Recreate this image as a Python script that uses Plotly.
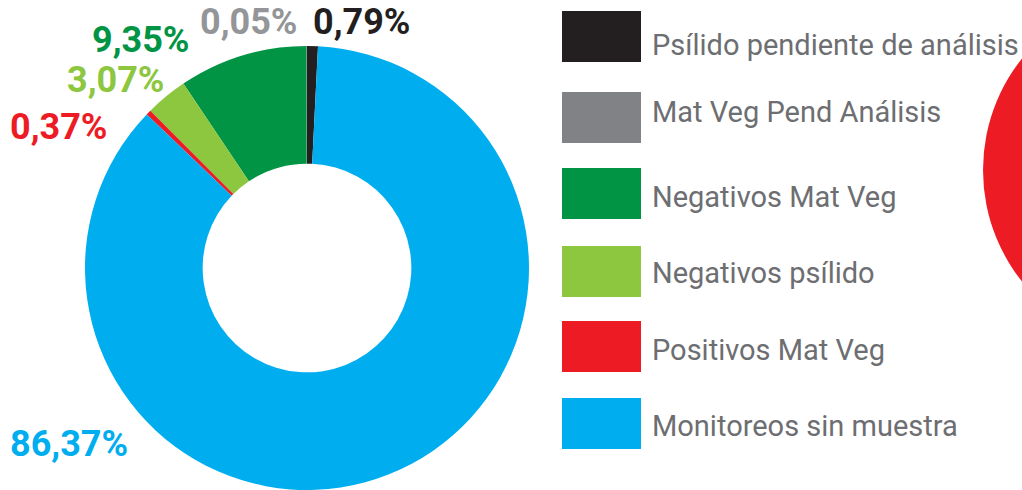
import plotly.graph_objects as go

categories = ["Psílido pendiente de análisis", "Mat Veg Pend Análisis", "Negativos Mat Veg",
              "Negativos psílido", "Positivos Mat Veg", "Monitoreos sin muestra"]
values = [0.79, 0.05, 9.35, 3.07, 0.37, 86.37]
pct_labels = ["0,79%", "0,05%", "9,35%", "3,07%", "0,37%", "86,37%"]
colors = ["#231F20", "#808285", "#009444", "#8DC63F", "#ED1C24", "#00AEEF"]
label_colors = ["#231F20", "#939598", "#009444", "#8DC63F", "#ED1C24", "#00AEEF"]

W, H = 1022, 490
def px(x): return x / W
def py(y): return 1 - y / H

fig = go.Figure()
fig.add_trace(go.Pie(
    labels=categories, values=values, sort=False, direction="counterclockwise",
    rotation=0, hole=0.47, marker=dict(colors=colors, line=dict(width=0)),
    textinfo="none", hoverinfo="label+percent", showlegend=False,
    domain=dict(x=[px(85), px(529)], y=[0, py(46)]),
))

# percentage labels (text positions)
label_pos = [(361, 22), (248, 22), (140, 40), (115, 80), (58, 127), (69, 444)]
annotations = []
for (lx, ly), t, c in zip(label_pos, pct_labels, label_colors):
    annotations.append(dict(x=px(lx), y=py(ly), xref="paper", yref="paper", text=f"<b>{t}</b>",
                            showarrow=False, xanchor="center", yanchor="middle",
                            font=dict(family="Roboto", size=36, color=c)))

# custom legend
shapes = []
swatch_top = [11, 92, 168, 246, 321, 398]
text_mid = [44, 111, 196, 272, 349, 425]
for top, ty, name, c in zip(swatch_top, text_mid, categories, colors):
    shapes.append(dict(type="rect", xref="paper", yref="paper", x0=px(562), x1=px(641),
                       y0=py(top + 51), y1=py(top), fillcolor=c, line=dict(width=0)))
    annotations.append(dict(x=px(650), y=py(ty + 1), xref="paper", yref="paper", text=name,
                            showarrow=False, xanchor="left", yanchor="middle",
                            font=dict(family="Roboto", size=29, color="#6D6E71")))

# decorative red circle at the right edge
shapes.append(dict(type="circle", xref="paper", yref="paper", x0=px(983), x1=px(1341),
                   y0=py(349), y1=py(-9), fillcolor="#ED1C24", line=dict(width=0), layer="below"))

fig.update_layout(width=W, height=H, margin=dict(l=0, r=0, t=0, b=0),
                  paper_bgcolor="white", plot_bgcolor="white",
                  shapes=shapes, annotations=annotations)
fig.write_html("out.html", config={"displayModeBar": False},
               post_script="document.body.style.margin='0';document.body.style.overflow='hidden';")
